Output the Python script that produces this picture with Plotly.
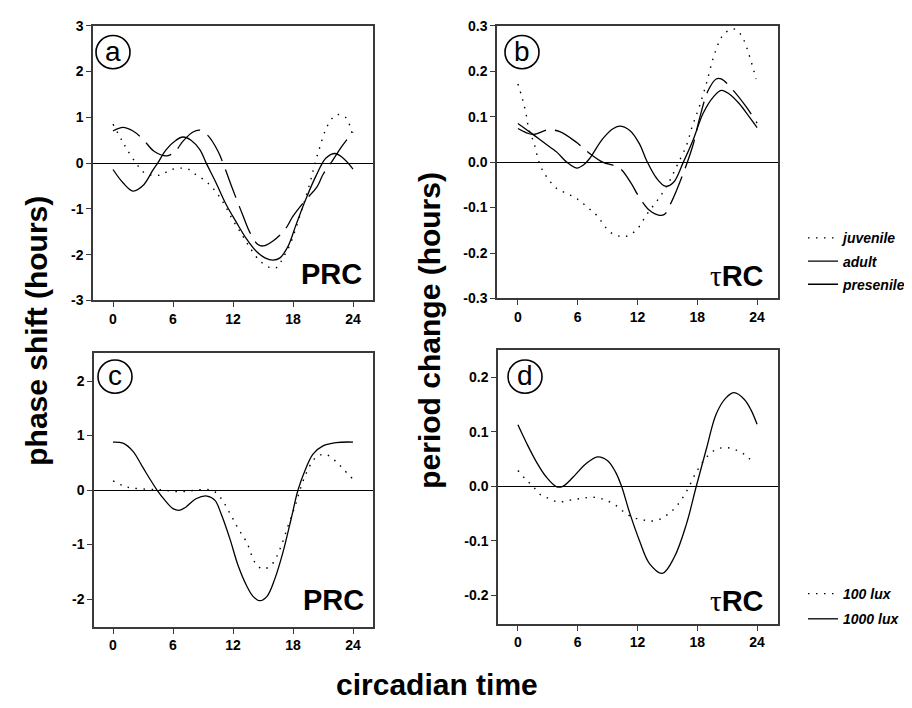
import plotly.graph_objects as go

# ---------------- data ----------------
# Panel a: PRC by age (phase shift, hours)
juv_a_x = [0, 0.9, 1.4, 2.5, 3.2, 4.2, 4.9, 5.7, 6.7, 7.5, 8.2, 9.2, 10, 11, 12, 13, 13.7, 14.7, 15.7, 16.4, 17, 17.7, 18.7, 19.7, 20.2, 20.7, 21.3, 22, 22.5, 23.3, 24]
juv_a_y = [0.85, 0.49, 0.30, -0.06, -0.22, -0.27, -0.25, -0.15, -0.11, -0.13, -0.24, -0.38, -0.55, -0.85, -1.25, -1.6, -1.85, -2.14, -2.28, -2.28, -2.07, -1.78, -1.14, -0.43, 0.0, 0.36, 0.75, 1.0, 1.06, 0.99, 0.55]
adu_a_x = [0, 1, 2, 3, 4.1, 5.4, 6.2, 7, 8, 8.7, 9.5, 10.5, 11, 12, 13, 13.7, 14.5, 15, 16, 17.2, 18, 19.2, 20.4, 21, 22, 22.9, 24]
adu_a_y = [0.7, 0.78, 0.7, 0.52, 0.26, 0.16, 0.25, 0.48, 0.68, 0.72, 0.6, 0.26, 0.0, -0.59, -1.15, -1.52, -1.78, -1.81, -1.7, -1.45, -1.16, -0.82, -0.52, -0.25, 0.07, 0.37, 0.68]
pre_a_x = [0, 1, 2, 3, 4, 4.5, 5.3, 6.3, 7, 7.8, 8.7, 9.3, 10.3, 11.3, 12.3, 13.3, 14.3, 15.2, 16, 16.7, 17.5, 18.3, 19.3, 20.3, 21.3, 22.2, 23, 24]
pre_a_y = [-0.14, -0.43, -0.61, -0.49, -0.15, 0.01, 0.29, 0.5, 0.57, 0.5, 0.29, 0.01, -0.43, -0.9, -1.28, -1.64, -1.92, -2.07, -2.12, -2.07, -1.82, -1.35, -0.78, -0.28, 0.11, 0.21, 0.11, -0.13]

# Panel b: tauRC by age (period change, hours)
juv_b_x = [0, 0.4, 0.8, 1.1, 1.6, 2.2, 2.9, 3.9, 4.9, 5.9, 6.9, 7.9, 9.2, 10.2, 10.9, 11.9, 13.0, 14.2, 15.2, 16.0, 16.9, 17.5, 18.2, 18.9, 19.6, 20.2, 20.7, 21.6, 22.0, 22.6, 23.2, 23.9]
juv_b_y = [0.172, 0.143, 0.108, 0.072, 0.043, -0.005, -0.033, -0.058, -0.069, -0.08, -0.098, -0.117, -0.153, -0.163, -0.163, -0.149, -0.113, -0.078, -0.042, -0.006, 0.036, 0.079, 0.122, 0.172, 0.229, 0.265, 0.283, 0.293, 0.29, 0.272, 0.236, 0.183]
adu_b_x = [0, 1.5, 3.0, 4.2, 5.9, 7.2, 8.5, 10.2, 11.4, 12.0, 13.2, 14.2, 14.7, 15.4, 16.6, 17.6, 18.2, 19.1, 19.9, 20.4, 21.6, 22.9, 24]
adu_b_y = [0.074, 0.061, 0.071, 0.067, 0.043, 0.019, 0.0, -0.013, -0.048, -0.071, -0.106, -0.117, -0.115, -0.088, -0.024, 0.04, 0.094, 0.158, 0.183, 0.183, 0.158, 0.122, 0.086]
pre_b_x = [0, 1.2, 2.6, 3.9, 4.9, 5.9, 6.6, 7.2, 8.5, 9.5, 10.2, 11.2, 12.2, 12.9, 13.9, 14.8, 15.6, 16.6, 17.6, 18.6, 19.6, 20.4, 21.2, 22.2, 23.2, 24]
pre_b_y = [0.085, 0.066, 0.043, 0.022, 0.0, -0.013, -0.006, 0.008, 0.051, 0.073, 0.079, 0.07, 0.04, 0.004, -0.035, -0.053, -0.045, 0.0, 0.05, 0.108, 0.143, 0.158, 0.15, 0.129, 0.10, 0.076]

# Panel c: PRC by light intensity
lux100_c_x = [0, 1, 1.8, 3, 4.2, 5, 5.8, 6.7, 7.5, 8.3, 9.2, 10, 10.8, 11.7, 12.5, 13.4, 14.2, 15, 15.9, 16.7, 17.5, 18.2, 18.7, 19.3, 20, 20.5, 21.3, 22.2, 23, 24]
lux100_c_y = [0.17, 0.08, 0.04, 0.02, 0.01, 0.0, -0.02, -0.03, -0.02, 0.0, 0.01, -0.01, -0.15, -0.43, -0.7, -0.97, -1.33, -1.45, -1.36, -1.08, -0.66, -0.3, 0.0, 0.3, 0.54, 0.63, 0.65, 0.54, 0.39, 0.2]
lux1000_c_x = [0, 1, 2, 3, 3.8, 4.4, 5.2, 6, 6.7, 7.3, 8.3, 9.4, 10.2, 10.8, 11.7, 12.5, 13.4, 14, 14.7, 15.4, 16.2, 17, 17.8, 18.5, 19.2, 20, 21, 22.3, 24]
lux1000_c_y = [0.88, 0.86, 0.71, 0.41, 0.17, 0.0, -0.19, -0.34, -0.37, -0.31, -0.16, -0.11, -0.19, -0.43, -0.9, -1.38, -1.77, -1.95, -2.03, -1.95, -1.62, -1.14, -0.54, 0.0, 0.36, 0.66, 0.81, 0.87, 0.88]

# Panel d: tauRC by light intensity
lux100_d_x = [0, 0.7, 1.5, 2.3, 3.2, 4, 4.8, 5.7, 6.5, 7.4, 8.2, 9, 9.9, 10.7, 11.5, 12.4, 13.2, 14.2, 15, 15.9, 16.9, 17.9, 18.9, 19.9, 20.9, 21.7, 22.7, 23.7]
lux100_d_y = [0.029, 0.014, 0.0, -0.016, -0.023, -0.029, -0.027, -0.024, -0.022, -0.02, -0.022, -0.027, -0.036, -0.048, -0.057, -0.061, -0.064, -0.061, -0.052, -0.037, -0.01, 0.026, 0.053, 0.068, 0.071, 0.068, 0.059, 0.042]
lux1000_d_x = [0, 0.85, 1.85, 2.85, 3.9, 4.5, 5.5, 6.8, 8, 9, 9.8, 10.4, 11.2, 12.2, 13.2, 14.5, 15.7, 16.9, 17.9, 18.9, 19.9, 20.9, 21.7, 22.7, 23.4, 24]
lux1000_d_y = [0.113, 0.08, 0.045, 0.017, -0.001, 0.0, 0.016, 0.041, 0.054, 0.047, 0.026, 0.0, -0.048, -0.1, -0.142, -0.16, -0.13, -0.07, 0.0, 0.068, 0.133, 0.163, 0.172, 0.16, 0.14, 0.114]

x_ticks = [0, 6, 12, 18, 24]
x_ticktext = ["0", "6", "12", "18", "24"]
ya_ticks = [3, 2, 1, 0, -1, -2, -3]
ya_text = ["3", "2", "1", "0", "-1", "-2", "-3"]
yb_ticks = [0.3, 0.2, 0.1, 0.0, -0.1, -0.2, -0.3]
yb_text = ["0.3", "0.2", "0.1", "0.0", "-0.1", "-0.2", "-0.3"]
yc_ticks = [2, 1, 0, -1, -2]
yc_text = ["2", "1", "0", "-1", "-2"]
yd_ticks = [0.2, 0.1, 0.0, -0.1, -0.2]
yd_text = ["0.2", "0.1", "0.0", "-0.1", "-0.2"]

age_names = ["juvenile", "adult", "presenile"]
lux_names = ["100 lux", "1000 lux"]

# ---------------- styling ----------------
W, H = 912, 708
OFF = 8  # page body margin offset of the figure div
FONT = "Liberation Sans, Arial, sans-serif"


def X(px):
    return (px - OFF) / W


def Y(py):
    return 1 - (py - OFF) / H


DOT = dict(color="black", width=1.4, dash="1.5px,6.5px")
DASH = dict(color="black", width=1.3, dash="30px,9px")
SOLID = dict(color="black", width=1.3)

fig = go.Figure()


def add(xs, ys, name, line, ax, legend=None):
    fig.add_trace(go.Scatter(
        x=xs, y=ys, mode="lines", name=name, line=dict(shape="spline", smoothing=1.0, **line),
        xaxis="x" + ax, yaxis="y" + ax,
        showlegend=legend is not None, legend=legend or "legend",
        legendgroup=name + ax, hoverinfo="skip"))


add(juv_a_x, juv_a_y, age_names[0], DOT, "", "legend")
add(adu_a_x, adu_a_y, age_names[1], DASH, "", "legend")
add(pre_a_x, pre_a_y, age_names[2], SOLID, "", "legend")
add(juv_b_x, juv_b_y, age_names[0], DOT, "2")
add(adu_b_x, adu_b_y, age_names[1], DASH, "2")
add(pre_b_x, pre_b_y, age_names[2], SOLID, "2")
add(lux100_c_x, lux100_c_y, lux_names[0], DOT, "3", "legend2")
add(lux1000_c_x, lux1000_c_y, lux_names[1], SOLID, "3", "legend2")
add(lux100_d_x, lux100_d_y, lux_names[0], DOT, "4")
add(lux1000_d_x, lux1000_d_y, lux_names[1], SOLID, "4")

tickfont = dict(family=FONT, size=14, color="black", weight="bold")
axcommon = dict(showline=True, mirror=True, linecolor="#3a3a3a", linewidth=1.5,
                ticks="outside", ticklen=5, tickwidth=1.2, tickcolor="#3a3a3a",
                showgrid=False, tickfont=tickfont, fixedrange=True)

panels = {
    "": dict(xpx=(93, 373), ypx=(18, 299), xr=[-2, 26], yr=[-3, 3], yt=(ya_ticks, ya_text)),
    "2": dict(xpx=(497, 778), ypx=(18, 297), xr=[-2.1, 26.1], yr=[-0.3, 0.3], yt=(yb_ticks, yb_text)),
    "3": dict(xpx=(94, 373), ypx=(353, 633), xr=[-1.9, 26], yr=[-2.51, 2.51], yt=(yc_ticks, yc_text)),
    "4": dict(xpx=(498, 778), ypx=(350, 630), xr=[-2.0, 26.1], yr=[-0.253, 0.25], yt=(yd_ticks, yd_text)),
}

layout = {}
for k, p in panels.items():
    layout["xaxis" + k] = dict(domain=[X(p["xpx"][0]), X(p["xpx"][1])], range=p["xr"],
                               anchor="y" + k, tickvals=x_ticks, ticktext=x_ticktext,
                               zeroline=False, **axcommon)
    layout["yaxis" + k] = dict(domain=[Y(p["ypx"][1]), Y(p["ypx"][0])], range=p["yr"],
                               anchor="x" + k, tickvals=p["yt"][0], ticktext=p["yt"][1],
                               zeroline=True, zerolinecolor="black", zerolinewidth=1.3, **axcommon)

legfont = dict(family=FONT, size=14, weight="bold", style="italic", color="black")
fig.update_layout(
    width=W, height=H, margin=dict(l=0, r=0, t=0, b=0),
    paper_bgcolor="white", plot_bgcolor="white",
    font=dict(family=FONT, color="black"),
    legend=dict(x=X(803), y=Y(219), xanchor="left", yanchor="top",
                font=legfont, tracegroupgap=2, bgcolor="rgba(0,0,0,0)"),
    legend2=dict(x=X(803), y=Y(583), xanchor="left", yanchor="top",
                 font=legfont, tracegroupgap=4, bgcolor="rgba(0,0,0,0)"),
    **layout,
)

# circled panel letters
letters = [("a", 113, 45), ("b", 522, 45), ("c", 115, 377), ("d", 525, 377)]
for t, cx, cy in letters:
    fig.add_shape(type="circle", xref="paper", yref="paper",
                  x0=X(cx - 17), x1=X(cx + 17), y0=Y(cy + 17), y1=Y(cy - 17),
                  line=dict(color="black", width=1.6))
    fig.add_annotation(text=t, x=X(cx), y=Y(cy - 1), xref="paper", yref="paper",
                       showarrow=False, xanchor="center", yanchor="middle",
                       font=dict(family=FONT, size=28, color="black"))

# PRC / tauRC labels
tau = '<span style="font-family:Liberation Serif, Times New Roman, serif;font-weight:normal">τ</span>'
for txt, rx, my in [("PRC", 364, 272), (tau + "RC", 766, 274), ("PRC", 366, 606), (tau + "RC", 766, 607)]:
    fig.add_annotation(text=txt, x=X(rx), y=Y(my), xref="paper", yref="paper",
                       showarrow=False, xanchor="right", yanchor="middle",
                       font=dict(family=FONT, size=29, color="black", weight="bold"))

# axis titles
title_font = dict(family=FONT, size=30, color="black", weight="bold")
fig.add_annotation(text="phase shift (hours)", x=X(37), y=Y(330), xref="paper", yref="paper",
                   textangle=-90, showarrow=False, xanchor="center", yanchor="middle", font=title_font)
fig.add_annotation(text="period change (hours)", x=X(430), y=Y(330), xref="paper", yref="paper",
                   textangle=-90, showarrow=False, xanchor="center", yanchor="middle", font=title_font)
fig.add_annotation(text="circadian time", x=X(437), y=Y(692), xref="paper", yref="paper",
                   showarrow=False, xanchor="center", yanchor="middle", font=title_font)

fig.write_html("out.html")
